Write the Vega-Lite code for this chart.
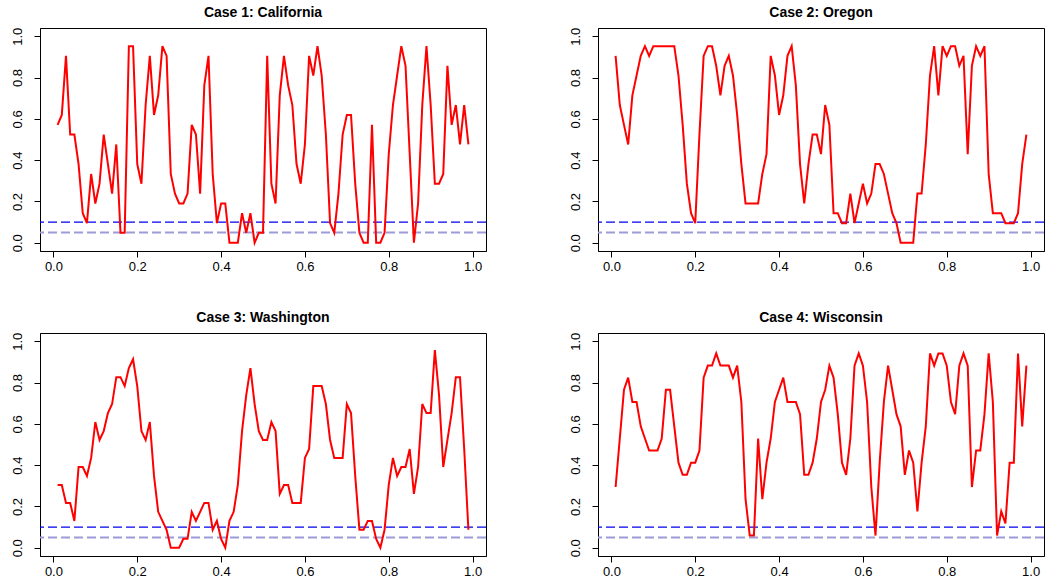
{
  "$schema": "https://vega.github.io/schema/vega-lite/v6.json",
  "background": "white",
  "padding": {"left": 10, "top": 5, "right": 5, "bottom": 2},
  "columns": 2,
  "bounds": "flush",
  "spacing": {"row": 82, "column": 112},
  "config": {
    "view": {"stroke": "black", "strokeWidth": 1},
    "axis": {"grid": false, "domainColor": "black", "tickColor": "black", "labelColor": "black", "labelFont": "Liberation Sans", "labelFontSize": 13, "tickSize": 6, "title": null},
    "axisX": {"labelPadding": 3},
    "axisY": {"labelPadding": 10, "labelAngle": -90, "labelAlign": "center", "labelBaseline": "bottom"},
    "title": {"font": "Liberation Sans", "fontSize": 14, "fontWeight": "bold", "color": "black", "anchor": "middle", "offset": 7}
  },
  "datasets": {
    "ca": [
      {"x":0.01,"y":0.571},{"x":0.02,"y":0.619},{"x":0.03,"y":0.905},{"x":0.04,"y":0.524},{"x":0.05,"y":0.524},{"x":0.06,"y":0.381},{"x":0.07,"y":0.143},{"x":0.08,"y":0.095},{"x":0.09,"y":0.333},{"x":0.10,"y":0.19},
      {"x":0.11,"y":0.286},{"x":0.12,"y":0.524},{"x":0.13,"y":0.381},{"x":0.14,"y":0.238},{"x":0.15,"y":0.476},{"x":0.16,"y":0.048},{"x":0.17,"y":0.048},{"x":0.18,"y":0.952},{"x":0.19,"y":0.952},{"x":0.20,"y":0.381},
      {"x":0.21,"y":0.286},{"x":0.22,"y":0.667},{"x":0.23,"y":0.905},{"x":0.24,"y":0.619},{"x":0.25,"y":0.714},{"x":0.26,"y":0.952},{"x":0.27,"y":0.905},{"x":0.28,"y":0.333},{"x":0.29,"y":0.238},{"x":0.30,"y":0.19},
      {"x":0.31,"y":0.19},{"x":0.32,"y":0.238},{"x":0.33,"y":0.571},{"x":0.34,"y":0.524},{"x":0.35,"y":0.238},{"x":0.36,"y":0.762},{"x":0.37,"y":0.905},{"x":0.38,"y":0.333},{"x":0.39,"y":0.095},{"x":0.40,"y":0.19},
      {"x":0.41,"y":0.19},{"x":0.42,"y":0},{"x":0.43,"y":0},{"x":0.44,"y":0},{"x":0.45,"y":0.143},{"x":0.46,"y":0.048},{"x":0.47,"y":0.143},{"x":0.48,"y":0},{"x":0.49,"y":0.048},{"x":0.50,"y":0.048},
      {"x":0.51,"y":0.905},{"x":0.52,"y":0.286},{"x":0.53,"y":0.19},{"x":0.54,"y":0.714},{"x":0.55,"y":0.905},{"x":0.56,"y":0.762},{"x":0.57,"y":0.667},{"x":0.58,"y":0.381},{"x":0.59,"y":0.286},{"x":0.60,"y":0.476},
      {"x":0.61,"y":0.905},{"x":0.62,"y":0.81},{"x":0.63,"y":0.952},{"x":0.64,"y":0.81},{"x":0.65,"y":0.524},{"x":0.66,"y":0.095},{"x":0.67,"y":0.048},{"x":0.68,"y":0.238},{"x":0.69,"y":0.524},{"x":0.70,"y":0.619},
      {"x":0.71,"y":0.619},{"x":0.72,"y":0.286},{"x":0.73,"y":0.048},{"x":0.74,"y":0},{"x":0.75,"y":0},{"x":0.76,"y":0.571},{"x":0.77,"y":0},{"x":0.78,"y":0},{"x":0.79,"y":0.048},{"x":0.80,"y":0.429},
      {"x":0.81,"y":0.667},{"x":0.82,"y":0.81},{"x":0.83,"y":0.952},{"x":0.84,"y":0.857},{"x":0.85,"y":0.429},{"x":0.86,"y":0},{"x":0.87,"y":0.19},{"x":0.88,"y":0.667},{"x":0.89,"y":0.952},{"x":0.90,"y":0.667},
      {"x":0.91,"y":0.286},{"x":0.92,"y":0.286},{"x":0.93,"y":0.333},{"x":0.94,"y":0.857},{"x":0.95,"y":0.571},{"x":0.96,"y":0.667},{"x":0.97,"y":0.476},{"x":0.98,"y":0.667},{"x":0.99,"y":0.476}
    ],
    "or": [
      {"x":0.01,"y":0.905},{"x":0.02,"y":0.667},{"x":0.03,"y":0.571},{"x":0.04,"y":0.476},{"x":0.05,"y":0.714},{"x":0.06,"y":0.81},{"x":0.07,"y":0.905},{"x":0.08,"y":0.952},{"x":0.09,"y":0.905},{"x":0.10,"y":0.952},
      {"x":0.11,"y":0.952},{"x":0.12,"y":0.952},{"x":0.13,"y":0.952},{"x":0.14,"y":0.952},{"x":0.15,"y":0.952},{"x":0.16,"y":0.81},{"x":0.17,"y":0.571},{"x":0.18,"y":0.286},{"x":0.19,"y":0.143},{"x":0.20,"y":0.095},
      {"x":0.21,"y":0.524},{"x":0.22,"y":0.905},{"x":0.23,"y":0.952},{"x":0.24,"y":0.952},{"x":0.25,"y":0.857},{"x":0.26,"y":0.714},{"x":0.27,"y":0.857},{"x":0.28,"y":0.905},{"x":0.29,"y":0.81},{"x":0.30,"y":0.619},
      {"x":0.31,"y":0.381},{"x":0.32,"y":0.19},{"x":0.33,"y":0.19},{"x":0.34,"y":0.19},{"x":0.35,"y":0.19},{"x":0.36,"y":0.333},{"x":0.37,"y":0.429},{"x":0.38,"y":0.905},{"x":0.39,"y":0.81},{"x":0.40,"y":0.619},
      {"x":0.41,"y":0.714},{"x":0.42,"y":0.905},{"x":0.43,"y":0.952},{"x":0.44,"y":0.762},{"x":0.45,"y":0.381},{"x":0.46,"y":0.19},{"x":0.47,"y":0.381},{"x":0.48,"y":0.524},{"x":0.49,"y":0.524},{"x":0.50,"y":0.429},
      {"x":0.51,"y":0.667},{"x":0.52,"y":0.571},{"x":0.53,"y":0.143},{"x":0.54,"y":0.143},{"x":0.55,"y":0.095},{"x":0.56,"y":0.095},{"x":0.57,"y":0.238},{"x":0.58,"y":0.095},{"x":0.59,"y":0.19},{"x":0.60,"y":0.286},
      {"x":0.61,"y":0.19},{"x":0.62,"y":0.238},{"x":0.63,"y":0.381},{"x":0.64,"y":0.381},{"x":0.65,"y":0.333},{"x":0.66,"y":0.238},{"x":0.67,"y":0.143},{"x":0.68,"y":0.095},{"x":0.69,"y":0},{"x":0.70,"y":0},
      {"x":0.71,"y":0},{"x":0.72,"y":0},{"x":0.73,"y":0.238},{"x":0.74,"y":0.238},{"x":0.75,"y":0.476},{"x":0.76,"y":0.81},{"x":0.77,"y":0.952},{"x":0.78,"y":0.714},{"x":0.79,"y":0.952},{"x":0.80,"y":0.905},
      {"x":0.81,"y":0.952},{"x":0.82,"y":0.952},{"x":0.83,"y":0.857},{"x":0.84,"y":0.905},{"x":0.85,"y":0.429},{"x":0.86,"y":0.857},{"x":0.87,"y":0.952},{"x":0.88,"y":0.905},{"x":0.89,"y":0.952},{"x":0.90,"y":0.333},
      {"x":0.91,"y":0.143},{"x":0.92,"y":0.143},{"x":0.93,"y":0.143},{"x":0.94,"y":0.095},{"x":0.95,"y":0.095},{"x":0.96,"y":0.095},{"x":0.97,"y":0.143},{"x":0.98,"y":0.381},{"x":0.99,"y":0.524}
    ],
    "wa": [
      {"x":0.01,"y":0.304},{"x":0.02,"y":0.304},{"x":0.03,"y":0.217},{"x":0.04,"y":0.217},{"x":0.05,"y":0.13},{"x":0.06,"y":0.391},{"x":0.07,"y":0.391},{"x":0.08,"y":0.348},{"x":0.09,"y":0.435},{"x":0.10,"y":0.609},
      {"x":0.11,"y":0.522},{"x":0.12,"y":0.565},{"x":0.13,"y":0.652},{"x":0.14,"y":0.696},{"x":0.15,"y":0.826},{"x":0.16,"y":0.826},{"x":0.17,"y":0.783},{"x":0.18,"y":0.87},{"x":0.19,"y":0.913},{"x":0.20,"y":0.783},
      {"x":0.21,"y":0.565},{"x":0.22,"y":0.522},{"x":0.23,"y":0.609},{"x":0.24,"y":0.348},{"x":0.25,"y":0.174},{"x":0.26,"y":0.13},{"x":0.27,"y":0.087},{"x":0.28,"y":0},{"x":0.29,"y":0},{"x":0.30,"y":0},
      {"x":0.31,"y":0.043},{"x":0.32,"y":0.043},{"x":0.33,"y":0.174},{"x":0.34,"y":0.13},{"x":0.35,"y":0.174},{"x":0.36,"y":0.217},{"x":0.37,"y":0.217},{"x":0.38,"y":0.087},{"x":0.39,"y":0.13},{"x":0.40,"y":0.043},
      {"x":0.41,"y":0},{"x":0.42,"y":0.13},{"x":0.43,"y":0.174},{"x":0.44,"y":0.304},{"x":0.45,"y":0.565},{"x":0.46,"y":0.739},{"x":0.47,"y":0.87},{"x":0.48,"y":0.696},{"x":0.49,"y":0.565},{"x":0.50,"y":0.522},
      {"x":0.51,"y":0.522},{"x":0.52,"y":0.609},{"x":0.53,"y":0.565},{"x":0.54,"y":0.261},{"x":0.55,"y":0.304},{"x":0.56,"y":0.304},{"x":0.57,"y":0.217},{"x":0.58,"y":0.217},{"x":0.59,"y":0.217},{"x":0.60,"y":0.435},
      {"x":0.61,"y":0.478},{"x":0.62,"y":0.783},{"x":0.63,"y":0.783},{"x":0.64,"y":0.783},{"x":0.65,"y":0.696},{"x":0.66,"y":0.522},{"x":0.67,"y":0.435},{"x":0.68,"y":0.435},{"x":0.69,"y":0.435},{"x":0.70,"y":0.696},
      {"x":0.71,"y":0.652},{"x":0.72,"y":0.348},{"x":0.73,"y":0.087},{"x":0.74,"y":0.087},{"x":0.75,"y":0.13},{"x":0.76,"y":0.13},{"x":0.77,"y":0.043},{"x":0.78,"y":0},{"x":0.79,"y":0.087},{"x":0.80,"y":0.304},
      {"x":0.81,"y":0.435},{"x":0.82,"y":0.348},{"x":0.83,"y":0.391},{"x":0.84,"y":0.391},{"x":0.85,"y":0.478},{"x":0.86,"y":0.261},{"x":0.87,"y":0.391},{"x":0.88,"y":0.696},{"x":0.89,"y":0.652},{"x":0.90,"y":0.652},
      {"x":0.91,"y":0.957},{"x":0.92,"y":0.739},{"x":0.93,"y":0.391},{"x":0.94,"y":0.522},{"x":0.95,"y":0.652},{"x":0.96,"y":0.826},{"x":0.97,"y":0.826},{"x":0.98,"y":0.478},{"x":0.99,"y":0.087}
    ],
    "wi": [
      {"x":0.01,"y":0.294},{"x":0.02,"y":0.529},{"x":0.03,"y":0.765},{"x":0.04,"y":0.824},{"x":0.05,"y":0.706},{"x":0.06,"y":0.706},{"x":0.07,"y":0.588},{"x":0.08,"y":0.529},{"x":0.09,"y":0.471},{"x":0.10,"y":0.471},
      {"x":0.11,"y":0.471},{"x":0.12,"y":0.529},{"x":0.13,"y":0.765},{"x":0.14,"y":0.765},{"x":0.15,"y":0.588},{"x":0.16,"y":0.412},{"x":0.17,"y":0.353},{"x":0.18,"y":0.353},{"x":0.19,"y":0.412},{"x":0.20,"y":0.412},
      {"x":0.21,"y":0.471},{"x":0.22,"y":0.824},{"x":0.23,"y":0.882},{"x":0.24,"y":0.882},{"x":0.25,"y":0.941},{"x":0.26,"y":0.882},{"x":0.27,"y":0.882},{"x":0.28,"y":0.882},{"x":0.29,"y":0.824},{"x":0.30,"y":0.882},
      {"x":0.31,"y":0.706},{"x":0.32,"y":0.235},{"x":0.33,"y":0.059},{"x":0.34,"y":0.059},{"x":0.35,"y":0.529},{"x":0.36,"y":0.235},{"x":0.37,"y":0.412},{"x":0.38,"y":0.529},{"x":0.39,"y":0.706},{"x":0.40,"y":0.765},
      {"x":0.41,"y":0.824},{"x":0.42,"y":0.706},{"x":0.43,"y":0.706},{"x":0.44,"y":0.706},{"x":0.45,"y":0.647},{"x":0.46,"y":0.353},{"x":0.47,"y":0.353},{"x":0.48,"y":0.412},{"x":0.49,"y":0.529},{"x":0.50,"y":0.706},
      {"x":0.51,"y":0.765},{"x":0.52,"y":0.882},{"x":0.53,"y":0.824},{"x":0.54,"y":0.647},{"x":0.55,"y":0.412},{"x":0.56,"y":0.353},{"x":0.57,"y":0.529},{"x":0.58,"y":0.882},{"x":0.59,"y":0.941},{"x":0.60,"y":0.882},
      {"x":0.61,"y":0.706},{"x":0.62,"y":0.294},{"x":0.63,"y":0.059},{"x":0.64,"y":0.412},{"x":0.65,"y":0.706},{"x":0.66,"y":0.882},{"x":0.67,"y":0.765},{"x":0.68,"y":0.647},{"x":0.69,"y":0.588},{"x":0.70,"y":0.353},
      {"x":0.71,"y":0.471},{"x":0.72,"y":0.412},{"x":0.73,"y":0.176},{"x":0.74,"y":0.412},{"x":0.75,"y":0.588},{"x":0.76,"y":0.941},{"x":0.77,"y":0.882},{"x":0.78,"y":0.941},{"x":0.79,"y":0.941},{"x":0.80,"y":0.882},
      {"x":0.81,"y":0.706},{"x":0.82,"y":0.647},{"x":0.83,"y":0.882},{"x":0.84,"y":0.941},{"x":0.85,"y":0.882},{"x":0.86,"y":0.294},{"x":0.87,"y":0.471},{"x":0.88,"y":0.471},{"x":0.89,"y":0.647},{"x":0.90,"y":0.941},
      {"x":0.91,"y":0.706},{"x":0.92,"y":0.059},{"x":0.93,"y":0.176},{"x":0.94,"y":0.118},{"x":0.95,"y":0.412},{"x":0.96,"y":0.412},{"x":0.97,"y":0.941},{"x":0.98,"y":0.588},{"x":0.99,"y":0.882}
    ]
  },
  "concat": [
    {
      "title": "Case 1: California",
      "width": 446, "height": 223,
      "layer": [
        {"data": {"values": [{}]}, "mark": {"type": "rule", "color": "#0000ee", "strokeWidth": 1.2, "strokeDash": [9, 4]}, "encoding": {"y": {"datum": 0.1}}},
        {"data": {"values": [{}]}, "mark": {"type": "rule", "color": "#9c9cd8", "strokeWidth": 2, "strokeDash": [9, 4]}, "encoding": {"y": {"datum": 0.05}}},
        {"data": {"name": "ca"}, "mark": {"type": "line", "color": "#ff0000", "strokeWidth": 2}, "encoding": {
          "x": {"field": "x", "type": "quantitative", "scale": {"domain": [-0.032, 1.032], "nice": false, "zero": false}, "axis": {"values": [0, 0.2, 0.4, 0.6, 0.8, 1.0], "format": ".1f"}},
          "y": {"field": "y", "type": "quantitative", "scale": {"domain": [-0.04, 1.04], "nice": false, "zero": false}, "axis": {"values": [0, 0.2, 0.4, 0.6, 0.8, 1.0], "format": ".1f"}}
        }}
      ]
    },
    {
      "title": "Case 2: Oregon",
      "width": 446, "height": 223,
      "layer": [
        {"data": {"values": [{}]}, "mark": {"type": "rule", "color": "#0000ee", "strokeWidth": 1.2, "strokeDash": [9, 4]}, "encoding": {"y": {"datum": 0.1}}},
        {"data": {"values": [{}]}, "mark": {"type": "rule", "color": "#9c9cd8", "strokeWidth": 2, "strokeDash": [9, 4]}, "encoding": {"y": {"datum": 0.05}}},
        {"data": {"name": "or"}, "mark": {"type": "line", "color": "#ff0000", "strokeWidth": 2}, "encoding": {
          "x": {"field": "x", "type": "quantitative", "scale": {"domain": [-0.032, 1.032], "nice": false, "zero": false}, "axis": {"values": [0, 0.2, 0.4, 0.6, 0.8, 1.0], "format": ".1f"}},
          "y": {"field": "y", "type": "quantitative", "scale": {"domain": [-0.04, 1.04], "nice": false, "zero": false}, "axis": {"values": [0, 0.2, 0.4, 0.6, 0.8, 1.0], "format": ".1f"}}
        }}
      ]
    },
    {
      "title": "Case 3: Washington",
      "width": 446, "height": 223,
      "layer": [
        {"data": {"values": [{}]}, "mark": {"type": "rule", "color": "#0000ee", "strokeWidth": 1.2, "strokeDash": [9, 4]}, "encoding": {"y": {"datum": 0.1}}},
        {"data": {"values": [{}]}, "mark": {"type": "rule", "color": "#9c9cd8", "strokeWidth": 2, "strokeDash": [9, 4]}, "encoding": {"y": {"datum": 0.05}}},
        {"data": {"name": "wa"}, "mark": {"type": "line", "color": "#ff0000", "strokeWidth": 2}, "encoding": {
          "x": {"field": "x", "type": "quantitative", "scale": {"domain": [-0.032, 1.032], "nice": false, "zero": false}, "axis": {"values": [0, 0.2, 0.4, 0.6, 0.8, 1.0], "format": ".1f"}},
          "y": {"field": "y", "type": "quantitative", "scale": {"domain": [-0.04, 1.04], "nice": false, "zero": false}, "axis": {"values": [0, 0.2, 0.4, 0.6, 0.8, 1.0], "format": ".1f"}}
        }}
      ]
    },
    {
      "title": "Case 4: Wisconsin",
      "width": 446, "height": 223,
      "layer": [
        {"data": {"values": [{}]}, "mark": {"type": "rule", "color": "#0000ee", "strokeWidth": 1.2, "strokeDash": [9, 4]}, "encoding": {"y": {"datum": 0.1}}},
        {"data": {"values": [{}]}, "mark": {"type": "rule", "color": "#9c9cd8", "strokeWidth": 2, "strokeDash": [9, 4]}, "encoding": {"y": {"datum": 0.05}}},
        {"data": {"name": "wi"}, "mark": {"type": "line", "color": "#ff0000", "strokeWidth": 2}, "encoding": {
          "x": {"field": "x", "type": "quantitative", "scale": {"domain": [-0.032, 1.032], "nice": false, "zero": false}, "axis": {"values": [0, 0.2, 0.4, 0.6, 0.8, 1.0], "format": ".1f"}},
          "y": {"field": "y", "type": "quantitative", "scale": {"domain": [-0.04, 1.04], "nice": false, "zero": false}, "axis": {"values": [0, 0.2, 0.4, 0.6, 0.8, 1.0], "format": ".1f"}}
        }}
      ]
    }
  ]
}
